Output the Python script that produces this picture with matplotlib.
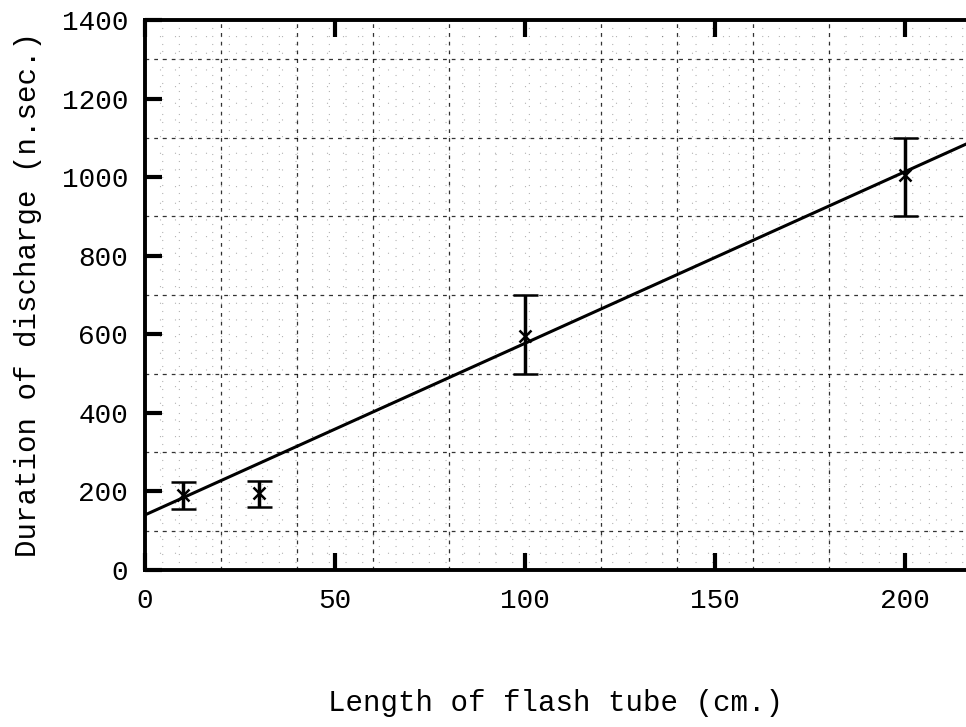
import numpy as np
from matplotlib import pyplot as plt
from matplotlib.ticker import MultipleLocator

# measured points (length in cm, duration in n.sec)
length_cm = [10, 30, 100, 200]
duration_ns = [190, 195, 595, 1005]
err_low = [35, 35, 95, 105]
err_high = [35, 32, 105, 95]

# fitted straight line
fit_x = [0, 216]
fit_y = [140, 1084]

x_ticks = [0, 50, 100, 150, 200]
y_ticks = [0, 200, 400, 600, 800, 1000, 1200, 1400]

plt.rcParams['font.family'] = ['Liberation Mono', 'DejaVu Sans Mono']

fig = plt.figure(figsize=(9.66, 7.27), dpi=100)
ax = fig.add_axes([0.150, 0.216, 0.850, 0.7565])

# graph paper grid
ax.xaxis.set_minor_locator(MultipleLocator(20))
ax.yaxis.set_minor_locator(MultipleLocator(100))
ax.grid(which='minor', color='black', linestyle=(0, (3, 4)), linewidth=0.9, alpha=0.8)
for xv in np.arange(4, 216, 4):
    ax.axvline(xv, color='black', linestyle=(0, (1, 14)), linewidth=0.8, alpha=0.3, zorder=0)
for yv in np.arange(20, 1400, 20):
    ax.axhline(yv, color='black', linestyle=(0, (1, 14)), linewidth=0.8, alpha=0.3, zorder=0)

ax.plot(fit_x, fit_y, color='black', linewidth=2.2, zorder=3)
ax.errorbar(length_cm, duration_ns, yerr=[err_low, err_high], fmt='x',
            color='black', markersize=9, markeredgewidth=1.8,
            ecolor='black', elinewidth=2.5, capsize=9, capthick=3, zorder=4)

ax.set_xlim(0, 216)
ax.set_ylim(0, 1400)
ax.set_xticks(x_ticks)
ax.set_yticks(y_ticks)
ax.tick_params(which='major', direction='in', length=12, width=3,
               top=True, labelsize=20, pad=13)
ax.tick_params(which='minor', length=0)
ax.tick_params(axis='y', pad=12)

for side in ['left', 'top', 'bottom']:
    ax.spines[side].set_linewidth(2.8)
ax.spines['right'].set_visible(False)

ax.set_xlabel('Length of flash tube (cm.)', fontsize=21, labelpad=54)
ax.set_ylabel('Duration of discharge (n.sec.)', fontsize=21, labelpad=14)

fig.savefig('out.png', dpi=100)
